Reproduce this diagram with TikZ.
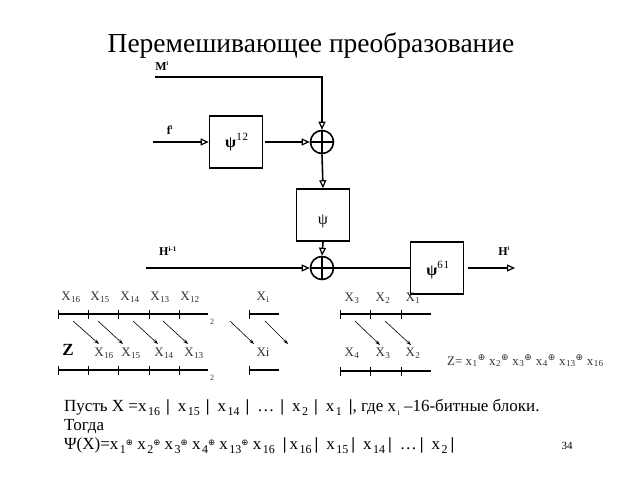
\documentclass[tikz,border=0pt]{standalone}
\usepackage{fontspec}
\setmainfont{Liberation Serif}
\newfontfamily\djv{DejaVu Sans}
\usetikzlibrary{arrows.meta}
\newcommand{\xs}{\textsuperscript{\djv\fontsize{9}{10}\selectfont ⊕}}
\newcommand{\sbx}[1]{\kern0.5pt\textsubscript{#1}}
% body-text helpers
\newcommand{\bs}[1]{\kern1.5pt\raisebox{-4pt}{\fontsize{12}{12}\selectfont #1}}
\newcommand{\bx}{\raisebox{4pt}{\djv\fontsize{8.5}{8.5}\selectfont ⊕}}
\newcommand{\bp}{\textbf{|}}
\newcommand{\bba}{\hspace{6pt}\bp\hspace{8pt}}
\newcommand{\bbb}{\hspace{3pt}\bp\hspace{8pt}}
\begin{document}
\begin{tikzpicture}[x=1pt,y=-1pt,
  wire/.style={line width=1.6pt},
  oarr/.style={wire,-{Triangle[open,length=8pt,width=7pt,line width=1.2pt]}},
  blk/.style={draw,line width=1.6pt,minimum width=53pt,minimum height=52pt,inner sep=0pt},
  xorc/.style={draw,circle,line width=1.6pt,minimum size=23pt,inner sep=0pt,
    path picture={\draw[line width=1.6pt] (path picture bounding box.north)--(path picture bounding box.south)
      (path picture bounding box.west)--(path picture bounding box.east);}},
  lbl/.style={font=\fontsize{12}{14}\selectfont\bfseries,inner sep=0pt},
  psil/.style={font=\fontsize{16}{18}\selectfont,inner sep=0pt},
  xl/.style={font=\fontsize{13}{15}\selectfont,text=black!80,inner sep=0pt},
  seg/.style={line width=1.4pt},
  tick/.style={line width=0.8pt},
  sarr/.style={line width=0.6pt,-{Stealth[length=5pt,width=3.5pt]}},
  sm/.style={font=\fontsize{8}{9}\selectfont,text=black!80,inner sep=0pt},
  body/.style={font=\fontsize{17}{19}\selectfont,inner sep=0pt,anchor=base west},
]
\useasboundingbox (0,0) rectangle (640,480);

% title
\node[anchor=base,font=\fontsize{27.5}{30}\selectfont,inner sep=0pt] (title) at (311,52) {Перемешивающее преобразование};

% diagram
\node[xorc] (c1) at (322,142) {};
\node[xorc] (c2) at (322,268) {};
\node[blk] (b12) at (236,142) {};
\node[blk] (bpsi) at (323,215) {};
\node[blk] (b61) at (437,268) {};
\node[psil] (t12) at (237,142) {\textbf{ψ}\textsuperscript{\fontsize{11}{12}\selectfont 1\kern1pt 2}};
\node[psil] (tpsi) at (323,221) {ψ};
\node[psil] (t61) at (438,270) {\textbf{ψ}\textsuperscript{\fontsize{11}{12}\selectfont 6\kern1pt 1}};

\node[lbl] (mlab) at (162,66) {M\textsuperscript{\fontsize{6}{7}\selectfont i}};
\node[lbl] (flab) at (170,130) {f\textsuperscript{\fontsize{6}{7}\selectfont i}};
\node[lbl] (hlab) at (168,251) {H\textsuperscript{\fontsize{7}{8}\selectfont i-1}};
\node[lbl] (hilab) at (504,251) {H\textsuperscript{\fontsize{6}{7}\selectfont i}};

\coordinate (mstart) at (155,77);
\coordinate (fstart) at (153,142);
\coordinate (hstart) at (146,268);
\coordinate (hend) at (515,268);

\draw[oarr] (mstart) -| (c1.north);
\draw[oarr] (fstart) -- (b12.west);
\draw[oarr] ([xshift=2pt]b12.east) -- (c1.west);
\draw[oarr] (c1.south) -- (bpsi.north);
\draw[oarr] (bpsi.south) -- (c2.north);
\draw[oarr] (hstart) -- (c2.west);
\draw[wire] (c2.east) -- (b61.west);
\draw[oarr] ([xshift=4pt]b61.east) -- (hend);

% bottom rows
\draw[seg] (58,314) -- (208,314);
\draw[seg] (58,370) -- (208,370);
\foreach \x in {58,88,118,149,179} {
  \draw[tick] (\x,310) -- (\x,319);
  \draw[tick] (\x,366) -- (\x,375);
}
\node[sm] (two1) at (212,322) {2};
\node[sm] (two2) at (212,378) {2};

\draw[seg] (249,314) -- (279,314);
\draw[seg] (249,370) -- (279,370);
\draw[tick] (249,310) -- (249,319);
\draw[tick] (249,366) -- (249,375);

\draw[seg] (340,314) -- (431,314);
\draw[seg] (340,371) -- (431,371);
\foreach \x in {340,370,401} {
  \draw[tick] (\x,310) -- (\x,319);
  \draw[tick] (\x,367) -- (\x,376);
}

\node[xl] (a16) at (71,297) {X\sbx{16}};
\node[xl] (a15) at (100,297) {X\sbx{15}};
\node[xl] (a14) at (130,297) {X\sbx{14}};
\node[xl] (a13) at (160,297) {X\sbx{13}};
\node[xl] (a12) at (190,297) {X\sbx{12}};
\node[xl] (ai) at (263,297) {X\sbx{i}};
\node[xl] (a3) at (352,298) {X\sbx{3}};
\node[xl] (a2) at (383,298) {X\sbx{2}};
\node[xl] (a1) at (413,298) {X\sbx{1}};

\node[xl] (z16) at (104,353) {X\sbx{16}};
\node[xl] (z15) at (131,353) {X\sbx{15}};
\node[xl] (z14) at (164,353) {X\sbx{14}};
\node[xl] (z13) at (194,353) {X\sbx{13}};
\node[xl] (zi) at (263,352) {Xi};
\node[xl] (z4) at (352,353) {X\sbx{4}};
\node[xl] (z3) at (383,353) {X\sbx{3}};
\node[xl] (z2) at (413,353) {X\sbx{2}};

\node[font=\fontsize{17}{19}\selectfont\bfseries,inner sep=0pt] (zlab) at (68,350) {Z};

\draw[sarr] (73,321) -- (99,344);
\draw[sarr] (98,321) -- (123,344);
\draw[sarr] (133,321) -- (158,344);
\draw[sarr] (163,321) -- (188,344);
\draw[sarr] (230,321) -- (254,344);
\draw[sarr] (265,321) -- (288,344);
\draw[sarr] (355,321) -- (380,345);
\draw[sarr] (385,321) -- (411,345);

\node[xl,anchor=west] (zform) at (447,361) {Z= x\sbx{1}\xs{} x\sbx{2}\xs{} x\sbx{3}\xs{} x\sbx{4}\xs{} x\sbx{13}\xs{} x\sbx{16}};

% text
\node[body] (l1) at (64,411) {Пусть X =x\bs{16}\bba x\bs{15}\bba x\bs{14}\bba…\bba x\bs{2}\bba x\bs{1}\hspace{7pt}\bp, где x\bs{\fontsize{8}{8}\selectfont i} –16-битные блоки.};
\node[body] (l2) at (64,430) {Тогда};
\node[body] (l3) at (64,449) {Ψ(X)=x\bs{1}\bx{} x\bs{2}\bx{} x\bs{3}\bx{} x\bs{4}\bx{} x\bs{13}\bx{} x\bs{16}\hspace{8pt}\bp\kern3pt x\bs{16}\bbb x\bs{15}\bbb x\bs{14}\bbb…\bbb x\bs{2}\hspace{3pt}\bp};
\node[font=\fontsize{11}{12}\selectfont,inner sep=0pt,anchor=base] (pg) at (567,449) {34};
\end{tikzpicture}
\end{document}
